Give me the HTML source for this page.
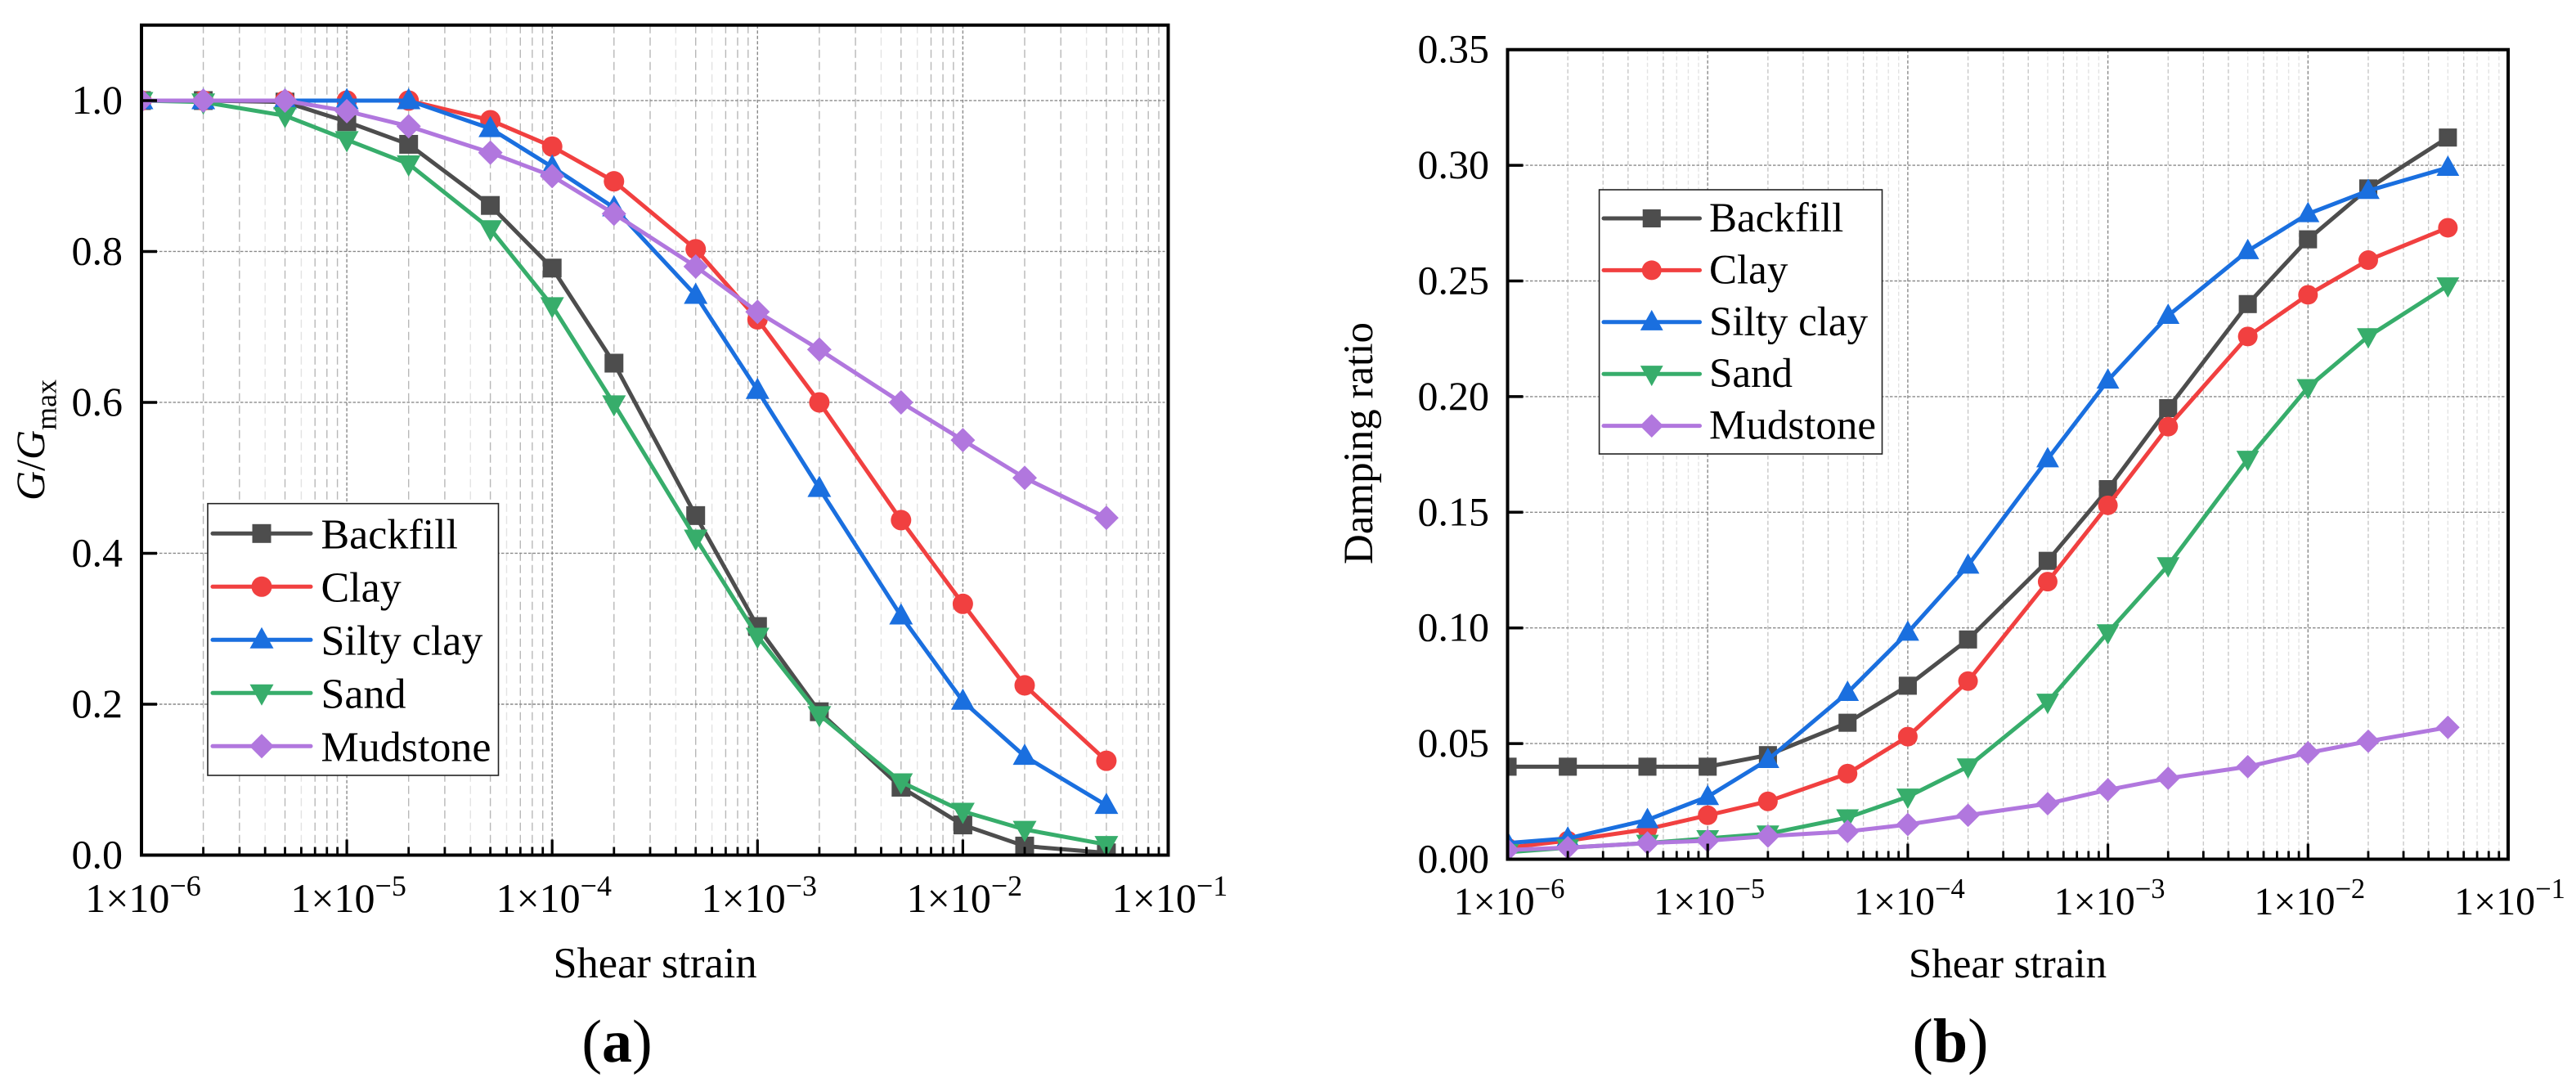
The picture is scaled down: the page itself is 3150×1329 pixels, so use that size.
<!DOCTYPE html>
<html lang="en">
<head>
<meta charset="utf-8">
<title>Shear strain curves</title>
<style>
html,body{margin:0;padding:0;background:#fff;width:3150px;height:1329px;overflow:hidden}
svg{display:block}
text{font-family:"Liberation Serif","Times New Roman",serif;fill:#000}
</style>
</head>
<body>
<svg id="figure" xmlns="http://www.w3.org/2000/svg" width="3150" height="1329" viewBox="0 0 3150 1329">
  <rect width="3150" height="1329" fill="#fff"/>
  <g id="panel-a"></g>
  <g id="panel-b"></g>
  <text x="754.5" y="1298" font-size="74" text-anchor="middle">(<tspan font-weight="bold">a</tspan>)</text>
  <text x="2385" y="1298" font-size="76" text-anchor="middle">(<tspan font-weight="bold">b</tspan>)</text>
</svg>
<script>
const strains = [1e-6,2e-6,5e-6,1e-5,2e-5,5e-5,1e-4,2e-4,5e-4,1e-3,2e-3,5e-3,1e-2,2e-2,5e-2];
const seriesNames = ['Backfill','Clay','Silty clay','Sand','Mudstone'];
const xExponents = [-6,-5,-4,-3,-2,-1];

const modulusTicks = [0,0.2,0.4,0.6,0.8,1.0];
const modulusTickLabels = ['0.0','0.2','0.4','0.6','0.8','1.0'];
const modulusBackfill = [1,1,0.998,0.972,0.942,0.861,0.778,0.652,0.45,0.303,0.19,0.09,0.04,0.012,0.003];
const modulusClay = [1,1,1,1,1,0.974,0.939,0.893,0.803,0.71,0.6,0.444,0.333,0.225,0.125];
const modulusSilty = [1,1,1,1,1,0.963,0.912,0.858,0.742,0.616,0.486,0.317,0.204,0.131,0.066];
const modulusSand = [1,0.998,0.98,0.948,0.916,0.83,0.728,0.598,0.42,0.29,0.186,0.097,0.058,0.034,0.014];
const modulusMudstone = [1,1,1,0.986,0.966,0.931,0.9,0.85,0.78,0.72,0.67,0.6,0.55,0.5,0.447];

const dampingTicks = [0,0.05,0.10,0.15,0.20,0.25,0.30,0.35];
const dampingTickLabels = ['0.00','0.05','0.10','0.15','0.20','0.25','0.30','0.35'];
const dampingBackfill = [0.04,0.04,0.04,0.04,0.045,0.059,0.075,0.095,0.129,0.16,0.195,0.24,0.268,0.29,0.312];
const dampingClay = [0.005,0.008,0.013,0.019,0.025,0.037,0.053,0.077,0.12,0.153,0.187,0.226,0.244,0.259,0.273];
const dampingSilty = [0.007,0.009,0.017,0.027,0.043,0.072,0.098,0.127,0.173,0.207,0.235,0.263,0.279,0.289,0.299];
const dampingSand = [0.003,0.005,0.007,0.009,0.011,0.018,0.027,0.04,0.068,0.098,0.127,0.173,0.204,0.226,0.248];
const dampingMudstone = [0.004,0.005,0.007,0.008,0.01,0.012,0.015,0.019,0.024,0.03,0.035,0.04,0.046,0.051,0.057];

const seriesColors = ['#4d4d4d','#f14040','#1a6fdf','#37ad6b','#b177de'];
const NS = 'http://www.w3.org/2000/svg';

function mk(parent, tag, attrs, txt){
  const el = document.createElementNS(NS, tag);
  for (const k in attrs) el.setAttribute(k, attrs[k]);
  if (txt !== undefined) el.textContent = txt;
  parent.appendChild(el);
  return el;
}

function slug(s){ return s.toLowerCase().replace(/\s+/g,'-'); }

function marker(parent, idx, cx, cy, color, name, s){
  let el;
  if (idx === 0) el = mk(parent,'rect',{x:cx-11.5*s,y:cy-11.5*s,width:23*s,height:23*s,fill:color});
  else if (idx === 1) el = mk(parent,'circle',{cx:cx,cy:cy,r:12.5*s,fill:color});
  else if (idx === 2) el = mk(parent,'polygon',{points:[cx-14.5*s,cy+10.5*s,cx+14.5*s,cy+10.5*s,cx,cy-15.5*s].join(' '),fill:color});
  else if (idx === 3) el = mk(parent,'polygon',{points:[cx-14.5*s,cy-10.5*s,cx+14.5*s,cy-10.5*s,cx,cy+15.5*s].join(' '),fill:color});
  else el = mk(parent,'polygon',{points:[cx-15*s,cy,cx,cy-15*s,cx+15*s,cy,cx,cy+15*s].join(' '),fill:color});
  
  
  return el;
}

function drawChart(root, cfg){
  const sx = v => cfg.left + (Math.log10(v) - xExponents[0]) * (cfg.right - cfg.left) / (xExponents[xExponents.length-1] - xExponents[0]);
  const sy = v => cfg.bottom - (v - cfg.yMin) * (cfg.bottom - cfg.top) / (cfg.yMax - cfg.yMin);

  const defs = mk(root,'defs',{});
  const clip = mk(defs,'clipPath',{id:cfg.id+'-clip'});
  mk(clip,'rect',{x:cfg.left,y:cfg.top,width:cfg.right-cfg.left,height:cfg.bottom-cfg.top});

  const grid = mk(root,'g',{fill:'none'});
  
  
  xExponents.slice(0,-1).forEach(e => {
    for (let m = 2; m <= 9; m++){
      const x = sx(m*Math.pow(10,e));
      const strong = cfg.strongMinors.indexOf(m) >= 0;
      mk(grid,'line',{x1:x,x2:x,y1:cfg.top,y2:cfg.bottom,stroke:strong?cfg.minorDark:'#e3e3e3','stroke-width':1.4,'stroke-dasharray':cfg.minorDash});
    }
  });
  xExponents.slice(1,-1).forEach(e => {
    const x = sx(Math.pow(10,e));
    mk(grid,'line',{x1:x,x2:x,y1:cfg.top,y2:cfg.bottom,stroke:'#8a8a8a','stroke-width':1.4,'stroke-dasharray':'4 2.5'});
  });
  cfg.ticks.forEach(v => {
    if (v === cfg.yMin || v === cfg.yMax) return;
    const y = sy(v);
    mk(grid,'line',{x1:cfg.left,x2:cfg.right-4,y1:y,y2:y,stroke:'#8a8a8a','stroke-width':1.4,'stroke-dasharray':'3.5 2'});
  });

  const plot = mk(root,'g',{'clip-path':'url(#'+cfg.id+'-clip)'});
  
  
  cfg.series.forEach((vals, i) => {
    const name = slug(seriesNames[i]);
    const g = mk(plot,'g',{});
    
    
    const pts = vals.map((v,k) => sx(strains[k]).toFixed(2)+','+sy(v).toFixed(2)).join(' ');
    const line = mk(g,'polyline',{points:pts,fill:'none',stroke:seriesColors[i],'stroke-width':5,'stroke-linejoin':'round','stroke-linecap':'round'});
    
    
    vals.forEach((v,k) => marker(g,i,sx(strains[k]),sy(v),seriesColors[i],'point-' + name,cfg.markerScale));
  });

  const ticks = mk(root,'g',{stroke:'#000'});
  
  
  xExponents.forEach((e,idx) => {
    const x = sx(Math.pow(10,e));
    mk(ticks,'line',{x1:x,x2:x,y1:cfg.bottom,y2:cfg.bottom-19,'stroke-width':3.2});
    if (idx < xExponents.length-1){
      for (let m = 2; m <= 9; m++){
        const xm = sx(m*Math.pow(10,e));
        mk(ticks,'line',{x1:xm,x2:xm,y1:cfg.bottom,y2:cfg.bottom-10,'stroke-width':2.8});
      }
    }
  });
  cfg.ticks.forEach(v => {
    const y = sy(v);
    if (v !== cfg.yMax) mk(ticks,'line',{x1:cfg.left,x2:cfg.left+19,y1:y,y2:y,'stroke-width':3.5});
  });

  const frame = mk(root,'rect',{x:cfg.left,y:cfg.top,width:cfg.right-cfg.left,height:cfg.bottom-cfg.top,fill:'none',stroke:'#000','stroke-width':4});
  
  

  cfg.ticks.forEach((v,i) => {
    const t = mk(root,'text',{x:cfg.yLabelRight,y:sy(v)+16,'font-size':cfg.tickFont,'text-anchor':'end'},cfg.tickLabels[i]);
    
    
  });
  xExponents.forEach(e => {
    const t = mk(root,'text',{x:sx(Math.pow(10,e))+2,y:cfg.xLabelY,'font-size':cfg.xTickFont,'text-anchor':'middle'});
    
    
    t.appendChild(document.createTextNode('1×10'));
    mk(t,'tspan',{'font-size':cfg.xTickFont*0.72,dy:-20},'−'+Math.abs(e));
  });

  const xt = mk(root,'text',{x:cfg.xTitleX,y:1195,'font-size':cfg.xTitleFont,'text-anchor':'middle'},'Shear strain');
  
  

  cfg.yTitle(root);

  const L = cfg.legend;
  const lg = mk(root,'g',{});
  
  
  mk(lg,'rect',{x:L.x1,y:L.y1,width:L.x2-L.x1,height:L.y2-L.y1,fill:'#fff',stroke:'#222','stroke-width':1.6});
  seriesNames.forEach((n,i) => {
    const y = L.firstRow + i*L.rowGap;
    const entry = mk(lg,'g',{});
    
    
    mk(entry,'line',{x1:L.lineX1,x2:L.lineX2,y1:y,y2:y,stroke:seriesColors[i],'stroke-width':5,'stroke-linecap':'round'});
    marker(entry,i,(L.lineX1+L.lineX2)/2,y,seriesColors[i],'legend-marker-' + slug(n),cfg.markerScale);
    mk(entry,'text',{x:L.textX,y:y+L.baseOff,'font-size':L.font},n);
  });
}

drawChart(document.getElementById('panel-a'),{
  id:'panel-a', left:173, right:1428.5, top:30.7, bottom:1045.5, yMin:0, yMax:1.1,
  ticks:modulusTicks, tickLabels:modulusTickLabels,
  series:[modulusBackfill,modulusClay,modulusSilty,modulusSand,modulusMudstone],
  markerScale:1, strongMinors:[2,3,5,7,8,9], minorDark:'#b8b8b8', minorDash:'10 5',
  tickFont:50, xTickFont:50, xLabelY:1115, yLabelRight:150, xTitleX:801, xTitleFont:52.5,
  legend:{x1:254,x2:609.5,y1:615.7,y2:948,firstRow:652.3,rowGap:65,lineX1:260,lineX2:380,textX:392.5,baseOff:18,font:52},
  yTitle:function(root){
    const t = mk(root,'text',{transform:'translate(54,612) rotate(-90)','font-size':50});
    
    
    mk(t,'tspan',{'font-style':'italic'},'G');
    mk(t,'tspan',{},'/');
    mk(t,'tspan',{'font-style':'italic'},'G');
    mk(t,'tspan',{'font-size':36,dy:14.6},'max');
  }
});

drawChart(document.getElementById('panel-b'),{
  id:'panel-b', left:1843.5, right:3067, top:60.7, bottom:1050.5, yMin:0, yMax:0.35,
  ticks:dampingTicks, tickLabels:dampingTickLabels,
  series:[dampingBackfill,dampingClay,dampingSilty,dampingSand,dampingMudstone],
  markerScale:0.96, strongMinors:[2,3,4,6], minorDark:'#c8c8c8', minorDash:'5 3',
  tickFont:50, xTickFont:48, xLabelY:1118, yLabelRight:1821, xTitleX:2455, xTitleFont:51,
  legend:{x1:1955.6,x2:2301.5,y1:232,y2:555,firstRow:267,rowGap:63.4,lineX1:1961,lineX2:2078.5,textX:2090,baseOff:16,font:51},
  yTitle:function(root){
    const t = mk(root,'text',{transform:'translate(1678,690) rotate(-90)','font-size':51},'Damping ratio');
    
    
  }
});
</script>
</body>
</html>
